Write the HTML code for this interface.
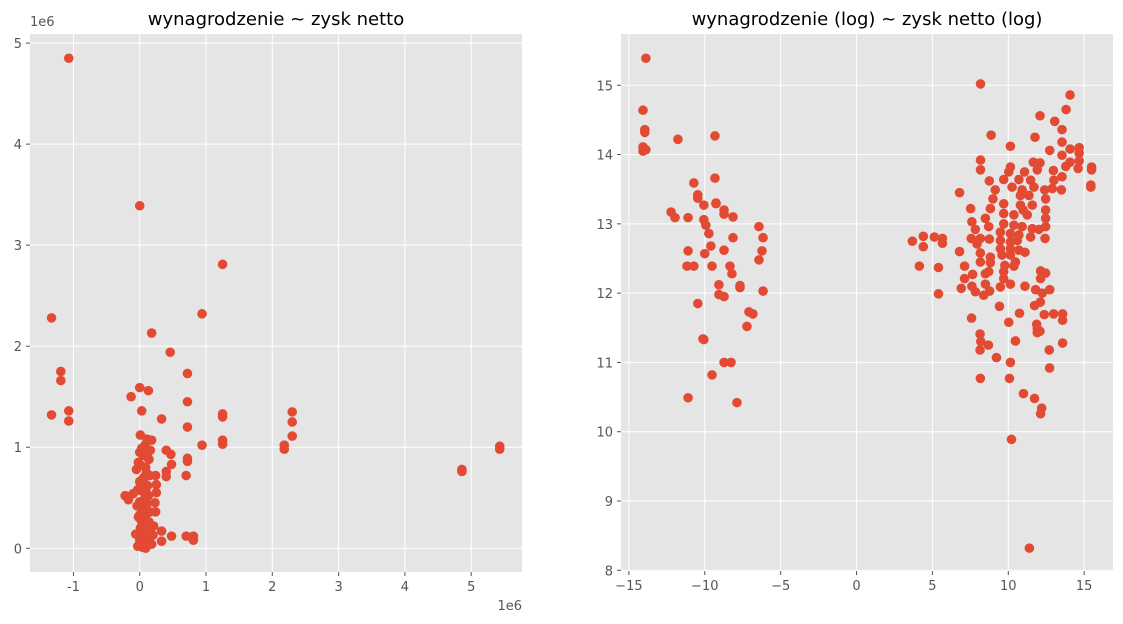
<!DOCTYPE html>
<html><head><meta charset="utf-8"><style>
body{margin:0;background:#fff;}
svg{display:block;font-family:"DejaVu Sans","Liberation Sans",sans-serif;}
.tick{font-size:13px;fill:#555;}
.title{font-size:18px;fill:#000;}
</style></head><body>
<svg id="chart" width="1123" height="624">
<g id="p1"></g>
<g id="p2"></g>
</svg>
<script>
// Left panel: wynagrodzenie ~ zysk netto (values in 1e6)
const leftX = [-1.07,0.0,-1.33,-1.19,-1.19,-1.33,-1.07,-1.07,1.25,0.94,0.18,0.46,0.72,0.0,0.13,-0.13,0.72,0.03,1.25,1.25,2.30,2.30,2.30,0.33,0.72,0.01,1.25,1.25,0.94,2.18,2.18,0.40,0.47,0.48,0.72,0.72,0.40,0.40,0.70,0.24,0.25,0.25,0.23,0.24,-0.22,-0.17,0.48,0.70,0.81,0.81,0.21,0.33,0.33,4.86,4.86,4.86,5.43,5.43,
0.18,0.11,0.03,0.16,0.08,0.0,0.12,0.05,-0.02,0.14,0.09,0.02,-0.05,0.1,0.06,0.15,0.0,0.04,0.12,0.07,-0.03,0.1,0.02,0.08,0.13,0.0,0.05,-0.04,0.11,0.03,0.16,0.07,0.0,0.09,0.02,-0.02,0.12,0.06,0.14,0.01,0.04,0.1,-0.06,0.08,0.03,0.15,0.0,0.05,0.11,0.02,0.18,0.07,-0.03,0.12,0.04,0.09,0.0,0.2,0.06,0.14,0.02,0.1,-0.1,0.03];
const leftY = [4.85,3.39,2.28,1.75,1.66,1.32,1.36,1.26,2.81,2.32,2.13,1.94,1.73,1.59,1.56,1.50,1.45,1.36,1.33,1.30,1.35,1.25,1.11,1.28,1.20,1.12,1.07,1.03,1.02,1.02,0.98,0.97,0.93,0.83,0.89,0.86,0.76,0.71,0.72,0.72,0.63,0.55,0.45,0.36,0.52,0.48,0.12,0.12,0.12,0.08,0.22,0.17,0.07,0.78,0.77,0.76,1.01,0.98,
1.07,1.08,0.99,0.97,1.02,0.95,0.90,0.92,0.85,0.88,0.80,0.82,0.78,0.75,0.70,0.72,0.66,0.68,0.62,0.64,0.58,0.55,0.57,0.50,0.52,0.46,0.47,0.42,0.44,0.40,0.36,0.37,0.33,0.30,0.28,0.31,0.25,0.22,0.26,0.20,0.18,0.16,0.14,0.12,0.19,0.10,0.08,0.09,0.06,0.05,0.04,0.03,0.02,0.07,0.01,0.00,0.11,0.13,0.04,0.15,0.05,0.34,0.54,0.27];
const leftXTicks = [-1,0,1,2,3,4,5];
const leftYTicks = [0,1,2,3,4,5];
// Right panel: log-log
const rightX = [-13.88,-14.07,-13.95,-13.95,-14.07,-13.88,-14.07,-11.77,-9.33,-10.72,-9.33,-10.46,-10.46,-9.26,-9.26,-10.06,-8.73,-8.73,-12.22,-11.96,-11.1,-10.06,-9.93,-8.14,-9.73,-6.43,-6.16,-8.14,-9.6,-10.0,-6.23,-8.73,-6.43,-11.1,-11.17,-10.72,-9.52,-8.34,-8.21,-7.68,-7.68,-6.16,-9.07,-9.07,-8.73,-10.46,-7.09,-6.83,-7.22,-10.12,-10.06,-8.73,-8.27,-9.52,-11.1,-7.88,
8.17,14.07,13.81,12.09,13.06,13.54,8.87,11.76,10.14,13.54,12.73,14.07,14.67,14.67,13.54,8.17,8.17,11.65,12.09,14.07,14.67,13.79,14.60,15.49,15.49,15.44,15.44,10.14,10.03,11.07,11.91,12.97,13.54,13.01,9.70,8.75,10.7,11.47,6.79,9.14,10.25,10.91,11.69,12.4,13.5,12.9,8.99,10.8,11.36,12.46,9.70,8.82,10.8,11.58,7.52,10.98,12.46,8.49,9.70,10.37,11.25,7.60,8.71,9.70,10.37,10.91,11.58,12.46,12.46,12.02,7.83,9.48,10.14,10.7,11.47,12.42,3.68,4.40,5.13,5.66,5.66,4.40,7.56,8.16,8.75,9.48,10.14,10.59,7.94,9.48,10.14,10.7,11.1,6.79,8.16,8.82,9.59,10.14,8.16,8.82,10.47,4.14,5.40,7.12,9.77,10.37,12.13,12.46,8.71,9.70,7.65,8.49,9.70,7.12,12.13,6.90,7.60,8.49,9.48,10.14,11.1,12.73,7.83,8.38,8.77,5.40,11.8,12.24,
9.42,10.74,11.73,12.11,12.37,12.99,13.58,13.58,7.58,10.03,11.87,11.91,12.09,11.91,8.14,8.19,8.69,8.14,10.47,13.58,12.70,9.22,10.14,12.72,8.16,10.08,11.0,11.73,12.2,12.13,10.21,11.39];
const rightY = [15.39,14.64,14.36,14.32,14.11,14.07,14.05,14.22,14.27,13.59,13.66,13.42,13.37,13.30,13.29,13.27,13.20,13.14,13.17,13.09,13.09,13.06,12.98,13.10,12.86,12.96,12.80,12.80,12.68,12.57,12.61,12.62,12.48,12.61,12.39,12.39,12.39,12.39,12.28,12.11,12.08,12.03,12.12,11.98,11.95,11.85,11.73,11.70,11.52,11.34,11.33,11.0,11.0,10.82,10.49,10.42,
15.02,14.86,14.65,14.56,14.48,14.36,14.28,14.25,14.12,14.18,14.06,14.08,14.10,14.02,13.99,13.92,13.78,13.89,13.88,13.89,13.91,13.83,13.80,13.82,13.78,13.56,13.53,13.82,13.75,13.75,13.78,13.77,13.68,13.63,13.64,13.62,13.64,13.63,13.45,13.49,13.53,13.49,13.53,13.49,13.49,13.51,13.36,13.41,13.41,13.36,13.29,13.22,13.27,13.27,13.22,13.20,13.20,13.08,13.15,13.13,13.13,13.03,12.96,13.0,12.98,12.96,12.93,13.08,12.96,12.92,12.92,12.88,12.86,12.84,12.81,12.79,12.75,12.82,12.81,12.79,12.72,12.67,12.79,12.79,12.78,12.76,12.74,12.76,12.71,12.64,12.64,12.62,12.59,12.60,12.58,12.52,12.55,12.55,12.45,12.44,12.45,12.39,12.37,12.39,12.40,12.39,12.32,12.29,12.31,12.31,12.27,12.28,12.21,12.21,12.21,12.07,12.10,12.13,12.09,12.13,12.10,12.05,12.02,11.97,12.03,11.99,12.05,12.0,
11.81,11.71,11.82,11.87,11.69,11.70,11.70,11.61,11.64,11.58,11.55,11.49,11.45,11.43,11.41,11.30,11.25,11.18,11.31,11.28,11.18,11.07,11.0,10.92,10.77,10.77,10.55,10.48,10.34,10.26,9.89,8.32];
const rightXTicks = [-15,-10,-5,0,5,10,15];
const rightYTicks = [8,9,10,11,12,13,14,15];

const NS='http://www.w3.org/2000/svg';
function mk(parent,tag,attrs){const e=document.createElementNS(NS,tag);for(const k in attrs)e.setAttribute(k,attrs[k]);parent.appendChild(e);return e;}

function panel(g,box,xlim,ylim,xs,ys,xt,yt,title,useMinus,offsetLabel,prefix){
  const sx=v=>box.x0+(v-xlim[0])/(xlim[1]-xlim[0])*(box.x1-box.x0);
  const sy=v=>box.y1-(v-ylim[0])/(ylim[1]-ylim[0])*(box.y1-box.y0);
  const bg=mk(g,'rect',{x:box.x0,y:box.y0,width:box.x1-box.x0,height:box.y1-box.y0,fill:'#E5E5E5'});
  
  
  const fmt=v=>(useMinus&&v<0?'\u2212'+Math.abs(v):String(v));
  xt.forEach(t=>{
    const X=sx(t);
    const l=mk(g,'line',{x1:X,x2:X,y1:box.y0,y2:box.y1,stroke:'#fff','stroke-width':1});
    
    
    mk(g,'line',{x1:X,x2:X,y1:box.y1,y2:box.y1+4,stroke:'#555'});
    const tx=mk(g,'text',{x:X,y:box.y1+19,'text-anchor':'middle',class:'tick'});
    tx.textContent=fmt(t);
    
    
  });
  yt.forEach(t=>{
    const Y=sy(t);
    const l=mk(g,'line',{x1:box.x0,x2:box.x1,y1:Y,y2:Y,stroke:'#fff','stroke-width':1});
    
    
    mk(g,'line',{x1:box.x0-4,x2:box.x0,y1:Y,y2:Y,stroke:'#555'});
    const tx=mk(g,'text',{x:box.x0-8,y:Y+5,'text-anchor':'end',class:'tick'});
    tx.textContent=fmt(t);
    
    
  });
  const n=Math.min(xs.length,ys.length);
  for(let i=0;i<n;i++){
    const c=mk(g,'circle',{cx:sx(xs[i]),cy:sy(ys[i]),r:4.8,fill:'#E24A33'});
    
    
  }
  const tt=mk(g,'text',{x:(box.x0+box.x1)/2,y:box.y0-9,'text-anchor':'middle',class:'title'});
  tt.textContent=title;
  
  
  if(offsetLabel){
    const o1=mk(g,'text',{x:box.x0,y:box.y0-8,class:'tick'});
    o1.textContent='1e6';
    
    
    const o2=mk(g,'text',{x:box.x1,y:box.y1+38,'text-anchor':'end',class:'tick'});
    o2.textContent='1e6';
    
    
  }
}
panel(document.getElementById('p1'),{x0:30,x1:522,y0:34,y1:572},[-1.655,5.766],[-0.235,5.09],leftX,leftY,leftXTicks,leftYTicks,'wynagrodzenie ~ zysk netto',false,true,'left');
panel(document.getElementById('p2'),{x0:621,x1:1113,y0:34,y1:571},[-15.52,16.9],[7.99,15.74],rightX,rightY,rightXTicks,rightYTicks,'wynagrodzenie (log) ~ zysk netto (log)',true,false,'right');
</script>
</body></html>
